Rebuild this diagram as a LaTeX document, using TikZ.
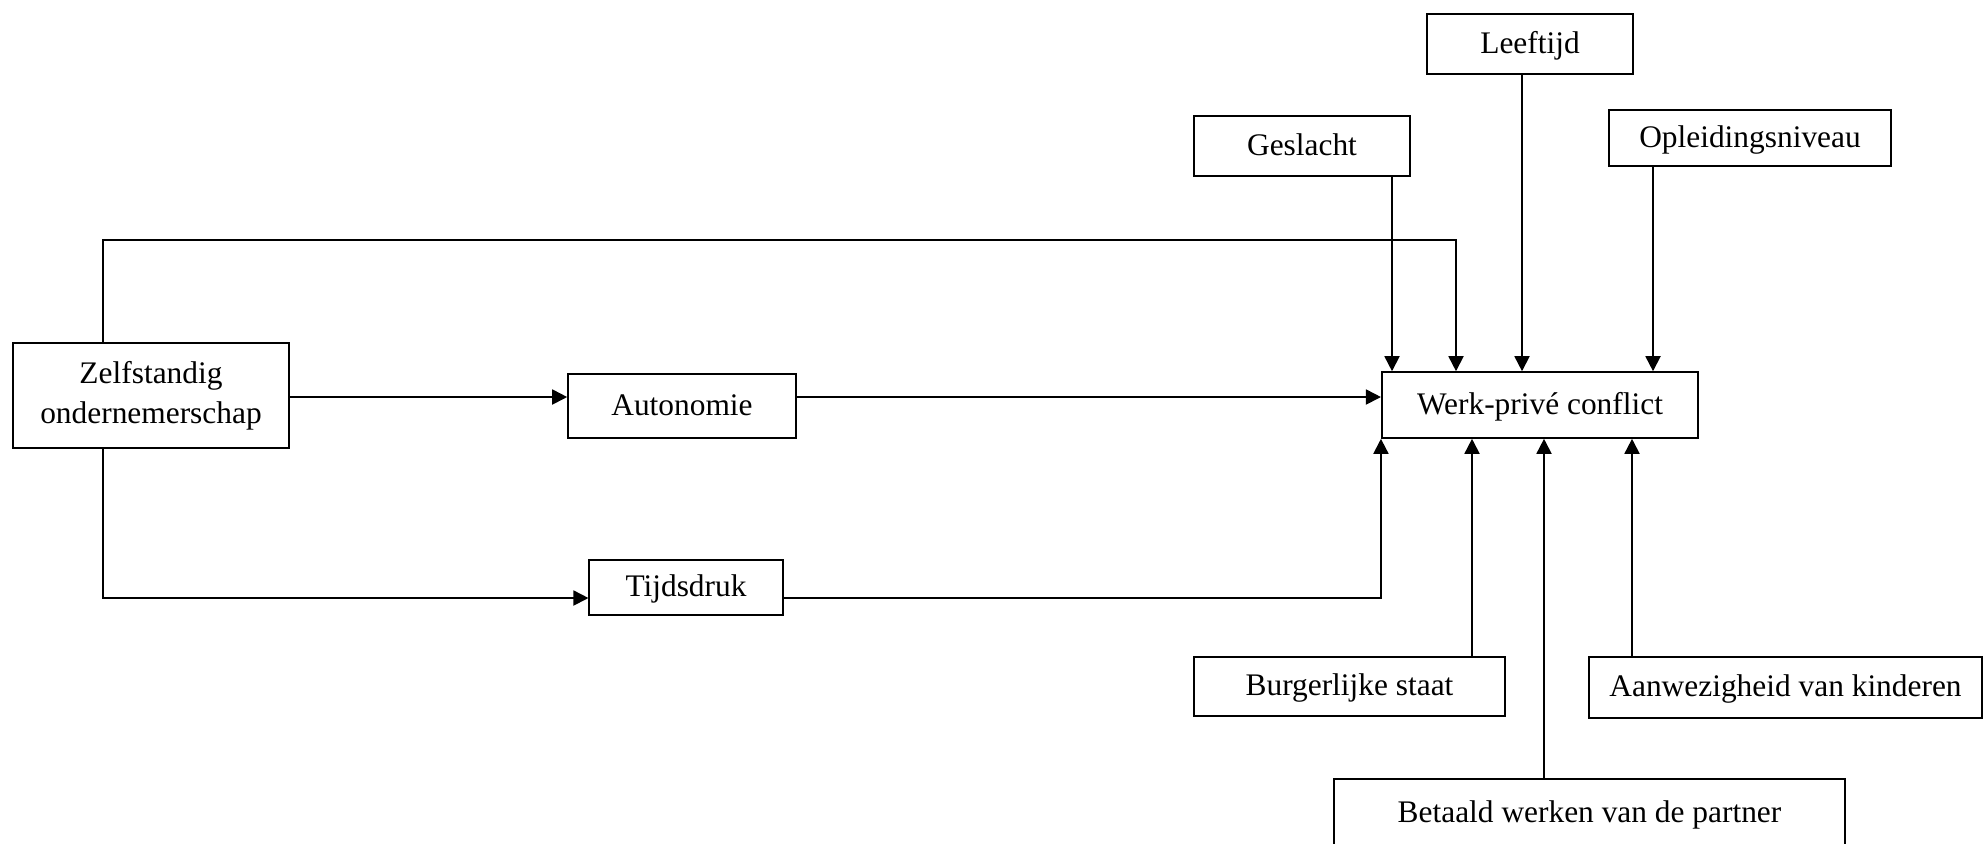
\documentclass[tikz,border=0pt]{standalone}
\usepackage{fontspec}
\setmainfont{Liberation Serif}
\usetikzlibrary{arrows.meta}
\begin{document}
\begin{tikzpicture}[x=0.5pt,y=-0.5pt,
  box/.style={draw=black,line width=0.8pt,inner sep=0pt,align=center,
    font=\fontsize{15.7}{20}\selectfont},
  onel/.style={box,text height=12pt,text depth=2.7pt},
  arr/.style={line width=0.9pt,-{Triangle[length=7.5pt,width=7.5pt]}}]
\fill[white] (0,0) rectangle (1984,843);
\clip (0,0) rectangle (1984,843);
% nodes
\node[box,minimum width=138pt,minimum height=52.5pt] (zelf) at (151,395.5) {Zelfstandig\\ondernemerschap};
\node[onel,minimum width=114pt,minimum height=32pt] (auto) at (682,406) {Autonomie};
\node[onel,minimum width=96.75pt,minimum height=27.5pt] (tijd) at (686,587.5) {Tijdsdruk};
\node[onel,minimum width=158.25pt,minimum height=33pt] (werk) at (1540,405) {Werk-privé conflict};
\node[onel,minimum width=108pt,minimum height=30pt] (gesl) at (1302,146) {Geslacht};
\node[onel,minimum width=103pt,minimum height=30pt] (leef) at (1530,44) {Leeftijd};
\node[onel,minimum width=141pt,minimum height=28pt] (opl) at (1750,138) {Opleidingsniveau};
\node[onel,minimum width=155.5pt,minimum height=29.5pt] (burg) at (1349.5,686.5) {Burgerlijke staat};
\node[onel,minimum width=196.5pt,minimum height=30.5pt] (aanw) at (1785.5,687.5) {Aanwezigheid van kinderen};
\node[onel,minimum width=255.5pt,minimum height=34pt] (beta) at (1589.5,813) {Betaald werken van de partner};
% helper coordinates
\coordinate (yA) at (0,397);
\coordinate (yT) at (0,240);
\coordinate (yB) at (0,598);
\coordinate (xZ) at (103,0);
\coordinate (xD) at (1456,0);
\coordinate (xG) at (1392,0);
\coordinate (xL) at (1522,0);
\coordinate (xO) at (1653,0);
\coordinate (xBu) at (1472,0);
\coordinate (xBe) at (1544,0);
\coordinate (xAa) at (1632,0);
% connectors
\draw[arr] (zelf.east |- yA) -- (auto.west |- yA);
\draw[arr] (auto.east |- yA) -- (werk.west |- yA);
\draw[arr] (zelf.north -| xZ) -- (xZ |- yT) -- (xD |- yT) -- (werk.north -| xD);
\draw[arr] (zelf.south -| xZ) -- (xZ |- yB) -- (tijd.west |- yB);
\draw[arr] (tijd.east |- yB) -| (werk.south west);
\draw[arr] (gesl.south -| xG) -- (werk.north -| xG);
\draw[arr] (leef.south -| xL) -- (werk.north -| xL);
\draw[arr] (opl.south -| xO) -- (werk.north -| xO);
\draw[arr] (burg.north -| xBu) -- (werk.south -| xBu);
\draw[arr] (beta.north -| xBe) -- (werk.south -| xBe);
\draw[arr] (aanw.north -| xAa) -- (werk.south -| xAa);
\end{tikzpicture}
\end{document}
